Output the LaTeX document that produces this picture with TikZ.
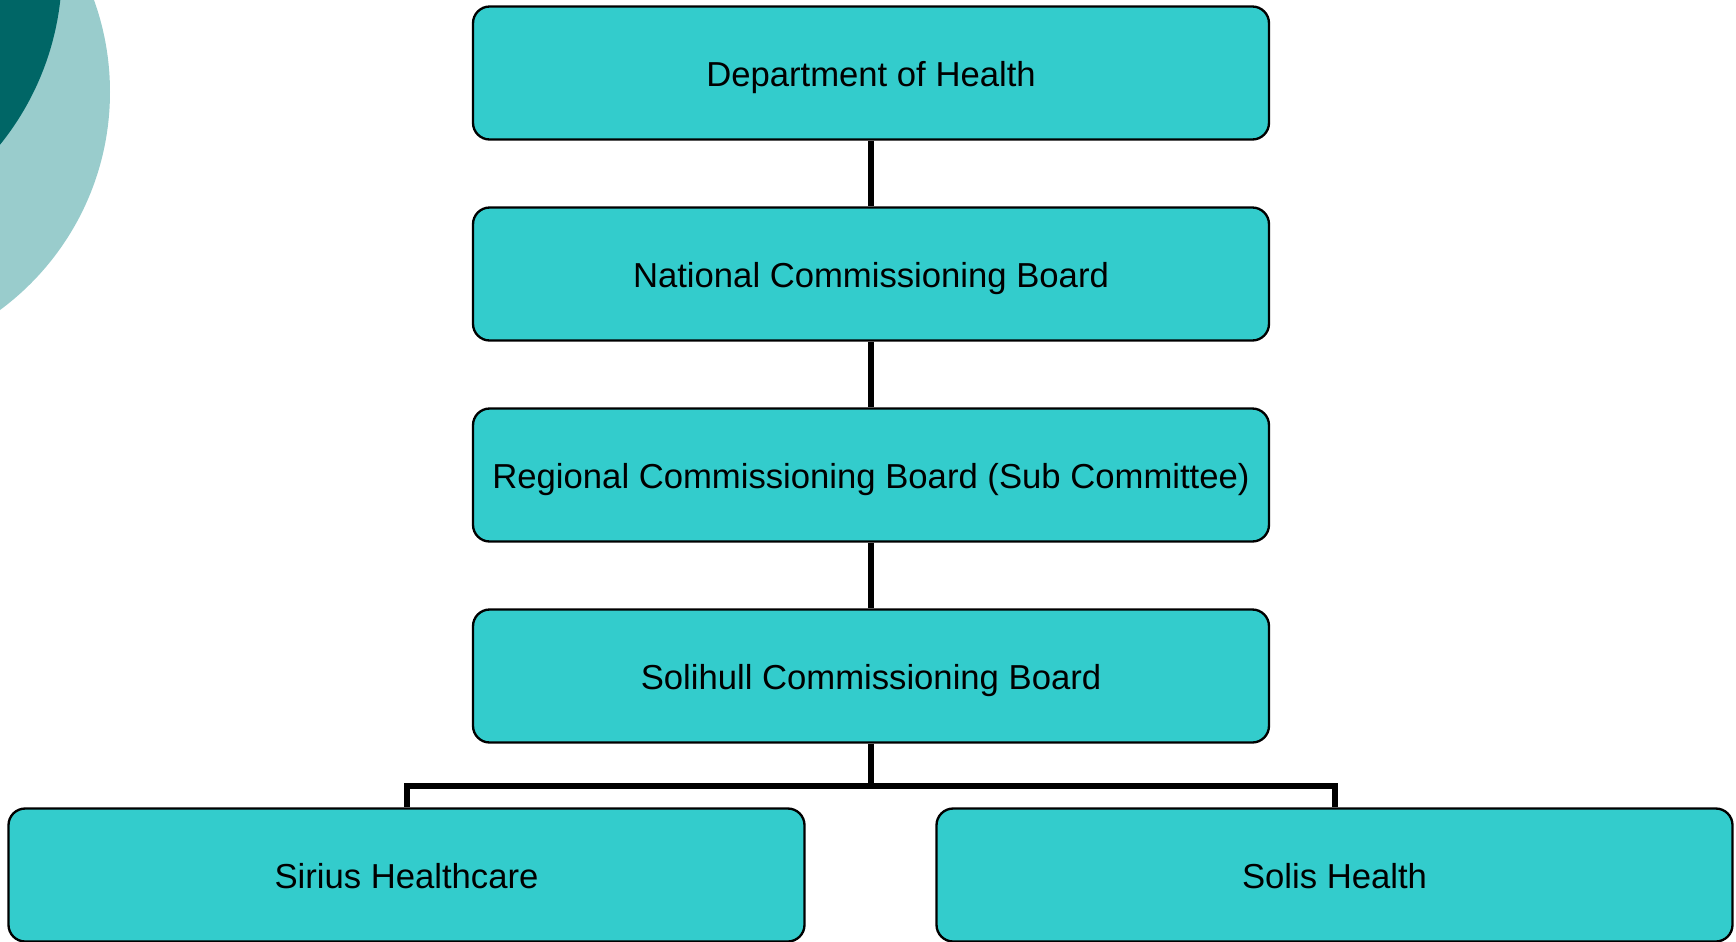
\documentclass[tikz,border=0pt]{standalone}
\usepackage{fontspec}
\setmainfont{Liberation Sans}
\usepackage{tikz}
\definecolor{boxfill}{HTML}{33CCCC}
\definecolor{lightteal}{HTML}{99CCCC}
\definecolor{darkteal}{HTML}{006666}
\def\bw{238.8pt}
\def\bh{39.9pt}
\tikzset{
  orgbox/.style={draw=black, line width=0.7pt, fill=boxfill, rounded corners=5pt,
    minimum width=\bw, minimum height=\bh, inner sep=0pt,
    text height=8pt, text depth=0pt,
    font=\fontsize{10.4}{12}\selectfont},
  link/.style={line width=1.8pt}
}
\begin{document}
\begin{tikzpicture}[x=0.3pt, y=-0.3pt]
\useasboundingbox (0,0) rectangle (1736,941);
\begin{scope}
\clip (0,0) rectangle (1736,941);
\fill[lightteal] (-161,92) circle (271);
\fill[darkteal] (-218,-31) circle (280);
\end{scope}

\node[orgbox] (doh) at (871,73) {Department of Health};
\node[orgbox] (ncb) at (871,274) {National Commissioning Board};
\node[orgbox] (rcb) at (871,475) {Regional Commissioning Board (Sub Committee)};
\node[orgbox] (scb) at (871,676) {Solihull Commissioning Board};
\node[orgbox] (sirius) at (406.5,875) {Sirius Healthcare};
\node[orgbox] (solis) at (1334.5,875) {Solis Health};
\coordinate (fork) at (871,786);

\draw[link] (doh) -- (ncb) (ncb) -- (rcb) (rcb) -- (scb);
\draw[link] (scb.south) -- (fork) -| (sirius.north);
\draw[link] (fork) -| (solis.north);
\end{tikzpicture}
\end{document}
